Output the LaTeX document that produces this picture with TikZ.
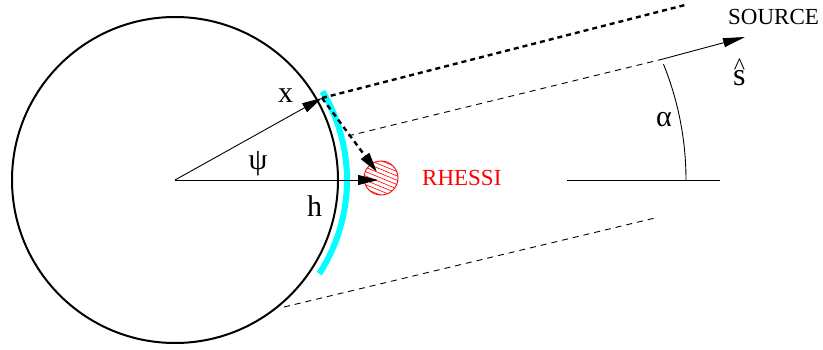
\documentclass[tikz,border=0pt]{standalone}
\usepackage{fontspec}
\setmainfont{Liberation Serif}
\usetikzlibrary{arrows.meta}
\definecolor{brightcyan}{RGB}{0,255,255}
\definecolor{brightred}{RGB}{255,0,0}
\begin{document}
\begin{tikzpicture}[x=1pt,y=1pt,
  big/.style={inner sep=0pt, font=\fontsize{30}{30}\selectfont},
  mid/.style={inner sep=0pt, font=\fontsize{23}{23}\selectfont},
  head/.style={-{Triangle[length=20pt,width=10pt]}},
  thickdash/.style={line width=2.4pt, dash pattern=on 5pt off 4pt},
  thindash/.style={line width=0.9pt, dash pattern=on 6pt off 5pt},
  thinline/.style={line width=0.9pt}]
\useasboundingbox (0,0) rectangle (823,349);
% key points
\coordinate (C) at (175,169);
\coordinate (X) at (322,251);
\coordinate (R) at (381,171);
\coordinate (Rtip) at (377,177);
\coordinate (Htip) at (378,169);
\coordinate (F) at (685,344);
\coordinate (P) at (348,213);
\coordinate (Q) at (663,290);
\coordinate (S) at (745,312);
\coordinate (L1) at (284,42);
\coordinate (L2) at (655,131);
\coordinate (H1) at (567,169);
\coordinate (H2) at (720,169);
\coordinate (A) at (377,169);
% earth
\node[draw, circle, line width=2pt, minimum size=326pt, inner sep=0pt] (earth) at (C) {};
% cyan arc
\draw[brightcyan, line width=6pt] ([shift={(31:172)}]C) arc[start angle=31, end angle=-33, radius=172];
% RHESSI ball
\begin{scope}
  \clip (R) circle (17);
  \foreach \i in {-16,-12,...,16}
    \draw[brightred, line width=0.6pt] ([shift={(\i*0.38-24*0.925,\i*0.925+24*0.38)}]R) -- ([shift={(\i*0.38+24*0.925,\i*0.925-24*0.38)}]R);
\end{scope}
\node[draw=brightred, circle, line width=0.9pt, minimum size=34pt, inner sep=0pt] (ball) at (R) {};
% radius arrows
\draw[thinline, head] (C) -- (X);
\draw[thinline, head] (C) -- (Htip);
% thick dashed lines
\draw[thickdash] (X) -- (F);
\draw[thickdash, head] (X) -- (Rtip);
% thin dashed lines
\draw[thindash] (P) -- (Q);
\draw[thinline, -{Triangle[length=22pt,width=9pt]}] (Q) -- (S);
\draw[thindash] (L1) -- (L2);
% horizontal and alpha arc
\draw[thinline] (H1) -- (H2);
\draw[thinline] ([shift={(0:309)}]A) arc[start angle=0, end angle=22, radius=309];
% labels
\node[big, anchor=base west] (lx) at (278,247) {x};
\node[big] (lpsi) at (258,185) {ψ};
\node[big, anchor=base west] (lh) at (307,133) {h};
\node[big] (lalpha) at (664,229) {α};
\node[inner sep=0pt, anchor=base west] (ls) at (733,264) {\fontsize{32}{32}\selectfont\ooalign{s\cr\hidewidth\raisebox{11pt}{\fontsize{24}{24}\selectfont\^{}}\hidewidth\cr}};
\node[mid, brightred, anchor=base west] (lrhessi) at (422,164) {RHESSI};
\node[mid, anchor=base west] (lsource) at (728,324) {SOURCE};
\end{tikzpicture}
\end{document}
